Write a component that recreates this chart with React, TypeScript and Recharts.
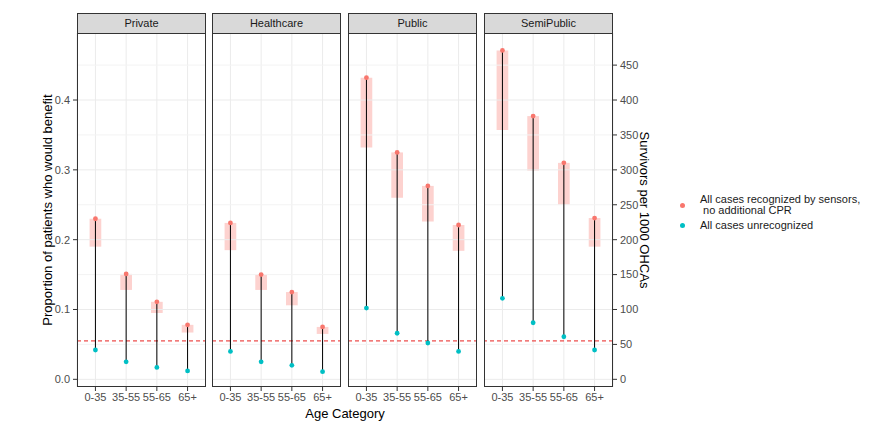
import React from "react";
import {
  ComposedChart,
  XAxis,
  YAxis,
  CartesianGrid,
  Scatter,
  ReferenceLine,
  ReferenceArea,
} from "recharts";

// ---------- data ----------
const categories = ["0-35", "35-55", "55-65", "65+"];
const panels = ["Private", "Healthcare", "Public", "SemiPublic"];

// All cases recognized by sensors, no additional CPR (point estimate)
const recognized = [
  [0.23, 0.151, 0.111, 0.078],
  [0.224, 0.15, 0.125, 0.075],
  [0.432, 0.325, 0.277, 0.221],
  [0.471, 0.377, 0.31, 0.231],
];
// lower edge of shaded range
const recognizedLow = [
  [0.19, 0.128, 0.095, 0.067],
  [0.185, 0.128, 0.106, 0.065],
  [0.332, 0.26, 0.226, 0.184],
  [0.357, 0.299, 0.25, 0.19],
];
// All cases unrecognized
const unrecognized = [
  [0.042, 0.025, 0.017, 0.012],
  [0.04, 0.025, 0.02, 0.011],
  [0.102, 0.066, 0.052, 0.04],
  [0.116, 0.081, 0.061, 0.042],
];
const threshold = 0.055;

const leftTicks = [0, 0.1, 0.2, 0.3, 0.4];
const minorTicks = [0.05, 0.15, 0.25, 0.35, 0.45];
const rightTicks = [0, 50, 100, 150, 200, 250, 300, 350, 400, 450];

const legendLabels = [
  ["All cases recognized by sensors,", " no additional CPR"],
  ["All cases unrecognized"],
];

// ---------- style ----------
const FONT = '"Liberation Sans", Arial, Helvetica, sans-serif';
const RED = "#F8766D";
const TEAL = "#00BFC4";
const Y_DOMAIN: [number, number] = [-0.011, 0.496];
const X_DOMAIN: [number, number] = [0.4, 4.6];
const PANEL_LEFT = [77, 212, 348, 484];
const PW = 129;
const PLOT_TOP = 33;
const PH = 354;
const XH = 25;
const AXW = 40;
const HALF = 0.19;

function Panel({ idx }: { idx: number }) {
  const showLeft = idx === 0;
  const showRight = idx === panels.length - 1;
  const lw = showLeft ? AXW : 0;
  const rw = showRight ? AXW : 0;
  const redPts = recognized[idx].map((y, i) => ({ x: i + 1, y }));
  const tealPts = unrecognized[idx].map((y, i) => ({ x: i + 1, y }));
  return (
    <>
      <div
        style={{
          position: "absolute",
          left: PANEL_LEFT[idx],
          top: 13,
          width: PW,
          height: 21,
          background: "#D9D9D9",
          border: "1px solid #333333",
          boxSizing: "border-box",
          fontFamily: FONT,
          fontSize: 11,
          color: "#1A1A1A",
          textAlign: "center",
          lineHeight: "19px",
        }}
      >
        {panels[idx]}
      </div>
      <div style={{ position: "absolute", left: PANEL_LEFT[idx] - lw, top: PLOT_TOP }}>
        <ComposedChart
          width={lw + PW + rw}
          height={PH + XH}
          margin={{ top: 0, right: 0, bottom: 0, left: 0 }}
        >
          <CartesianGrid horizontal={false} stroke="#EBEBEB" strokeWidth={1} />
          <XAxis
            type="number"
            dataKey="x"
            domain={X_DOMAIN}
            ticks={[1, 2, 3, 4]}
            interval={0}
            allowDataOverflow
            tickFormatter={(v: number) => categories[Math.round(v) - 1]}
            axisLine={false}
            tickLine={{ stroke: "#333333" }}
            tickSize={4}
            tickMargin={2}
            height={XH}
            tick={{ fill: "#4D4D4D", fontSize: 11, fontFamily: FONT }}
          />
          <YAxis
            type="number"
            dataKey="y"
            domain={Y_DOMAIN}
            allowDataOverflow
            hide={!showLeft && !showRight}
            orientation={showRight ? "right" : "left"}
            width={showLeft || showRight ? AXW : 0}
            ticks={showRight ? rightTicks.map((v) => v / 1000) : leftTicks}
            interval={0}
            tickFormatter={(v: number) =>
              showRight ? String(Math.round(v * 1000)) : v.toFixed(1)
            }
            axisLine={false}
            tickLine={{ stroke: "#333333" }}
            tickSize={4}
            tickMargin={3}
            tick={{ fill: "#4D4D4D", fontSize: 11, fontFamily: FONT }}
          />
          {minorTicks.map((v) => (
            <ReferenceLine key={"mn" + v} y={v} stroke="#F3F3F3" strokeWidth={1} />
          ))}
          {leftTicks.map((v) => (
            <ReferenceLine key={"mj" + v} y={v} stroke="#EBEBEB" strokeWidth={1} />
          ))}
          {categories.map((c, i) => (
            <ReferenceArea
              key={"ra" + c}
              x1={i + 1 - HALF}
              x2={i + 1 + HALF}
              y1={recognizedLow[idx][i]}
              y2={recognized[idx][i]}
              fill={RED}
              fillOpacity={0.33}
              stroke="none"
            />
          ))}
          <ReferenceLine
            y={threshold}
            stroke="#E8211F"
            strokeWidth={1}
            strokeDasharray="4 3"
          />
          <Scatter
            data={redPts}
            isAnimationActive={false}
            shape={(p: any) => <circle cx={p.cx} cy={p.cy} r={2.4} fill={RED} />}
          />
          <Scatter
            data={tealPts}
            isAnimationActive={false}
            shape={(p: any) => <circle cx={p.cx} cy={p.cy} r={2.4} fill={TEAL} />}
          />
          {categories.map((c, i) => (
            <ReferenceLine
              key={"sg" + c}
              segment={[
                { x: i + 1, y: unrecognized[idx][i] },
                { x: i + 1, y: recognized[idx][i] },
              ]}
              stroke="#000000"
              strokeWidth={1}
            />
          ))}
        </ComposedChart>
      </div>
      <div
        style={{
          position: "absolute",
          left: PANEL_LEFT[idx],
          top: PLOT_TOP,
          width: PW,
          height: PH,
          border: "1px solid #333333",
          boxSizing: "border-box",
          pointerEvents: "none",
        }}
      />
    </>
  );
}

export default function App() {
  return (
    <div
      style={{
        position: "absolute",
        left: 0,
        top: 0,
        width: 879,
        height: 430,
        background: "#FFFFFF",
        overflow: "hidden",
        fontFamily: FONT,
      }}
    >
      {panels.map((p, i) => (
        <Panel key={p} idx={i} />
      ))}
      {/* axis titles */}
      <div
        style={{
          position: "absolute",
          left: 47,
          top: 210,
          transform: "translate(-50%, -50%) rotate(-90deg)",
          whiteSpace: "nowrap",
          fontSize: 13,
          color: "#000",
        }}
      >
        Proportion of patients who would benefit
      </div>
      <div
        style={{
          position: "absolute",
          left: 644,
          top: 210,
          transform: "translate(-50%, -50%) rotate(90deg)",
          whiteSpace: "nowrap",
          fontSize: 13,
          color: "#000",
        }}
      >
        Survivors per 1000 OHCAs
      </div>
      <div
        style={{
          position: "absolute",
          left: 345,
          top: 413,
          transform: "translate(-50%, -50%)",
          whiteSpace: "nowrap",
          fontSize: 13,
          color: "#000",
        }}
      >
        Age Category
      </div>
      {/* legend */}
      <div style={{ position: "absolute", left: 680, top: 194, fontSize: 11, color: "#1A1A1A" }}>
        {[RED, TEAL].map((col, k) => (
          <div
            key={k}
            style={{ display: "flex", alignItems: "center", marginBottom: k === 0 ? 4 : 0 }}
          >
            <span
              style={{
                display: "inline-block",
                width: 5,
                height: 5,
                borderRadius: "50%",
                background: col,
                marginRight: 15,
              }}
            />
            <div style={{ lineHeight: "11px", whiteSpace: "pre" }}>
              {legendLabels[k].map((t, j) => (
                <div key={j}>{t}</div>
              ))}
            </div>
          </div>
        ))}
      </div>
    </div>
  );
}
